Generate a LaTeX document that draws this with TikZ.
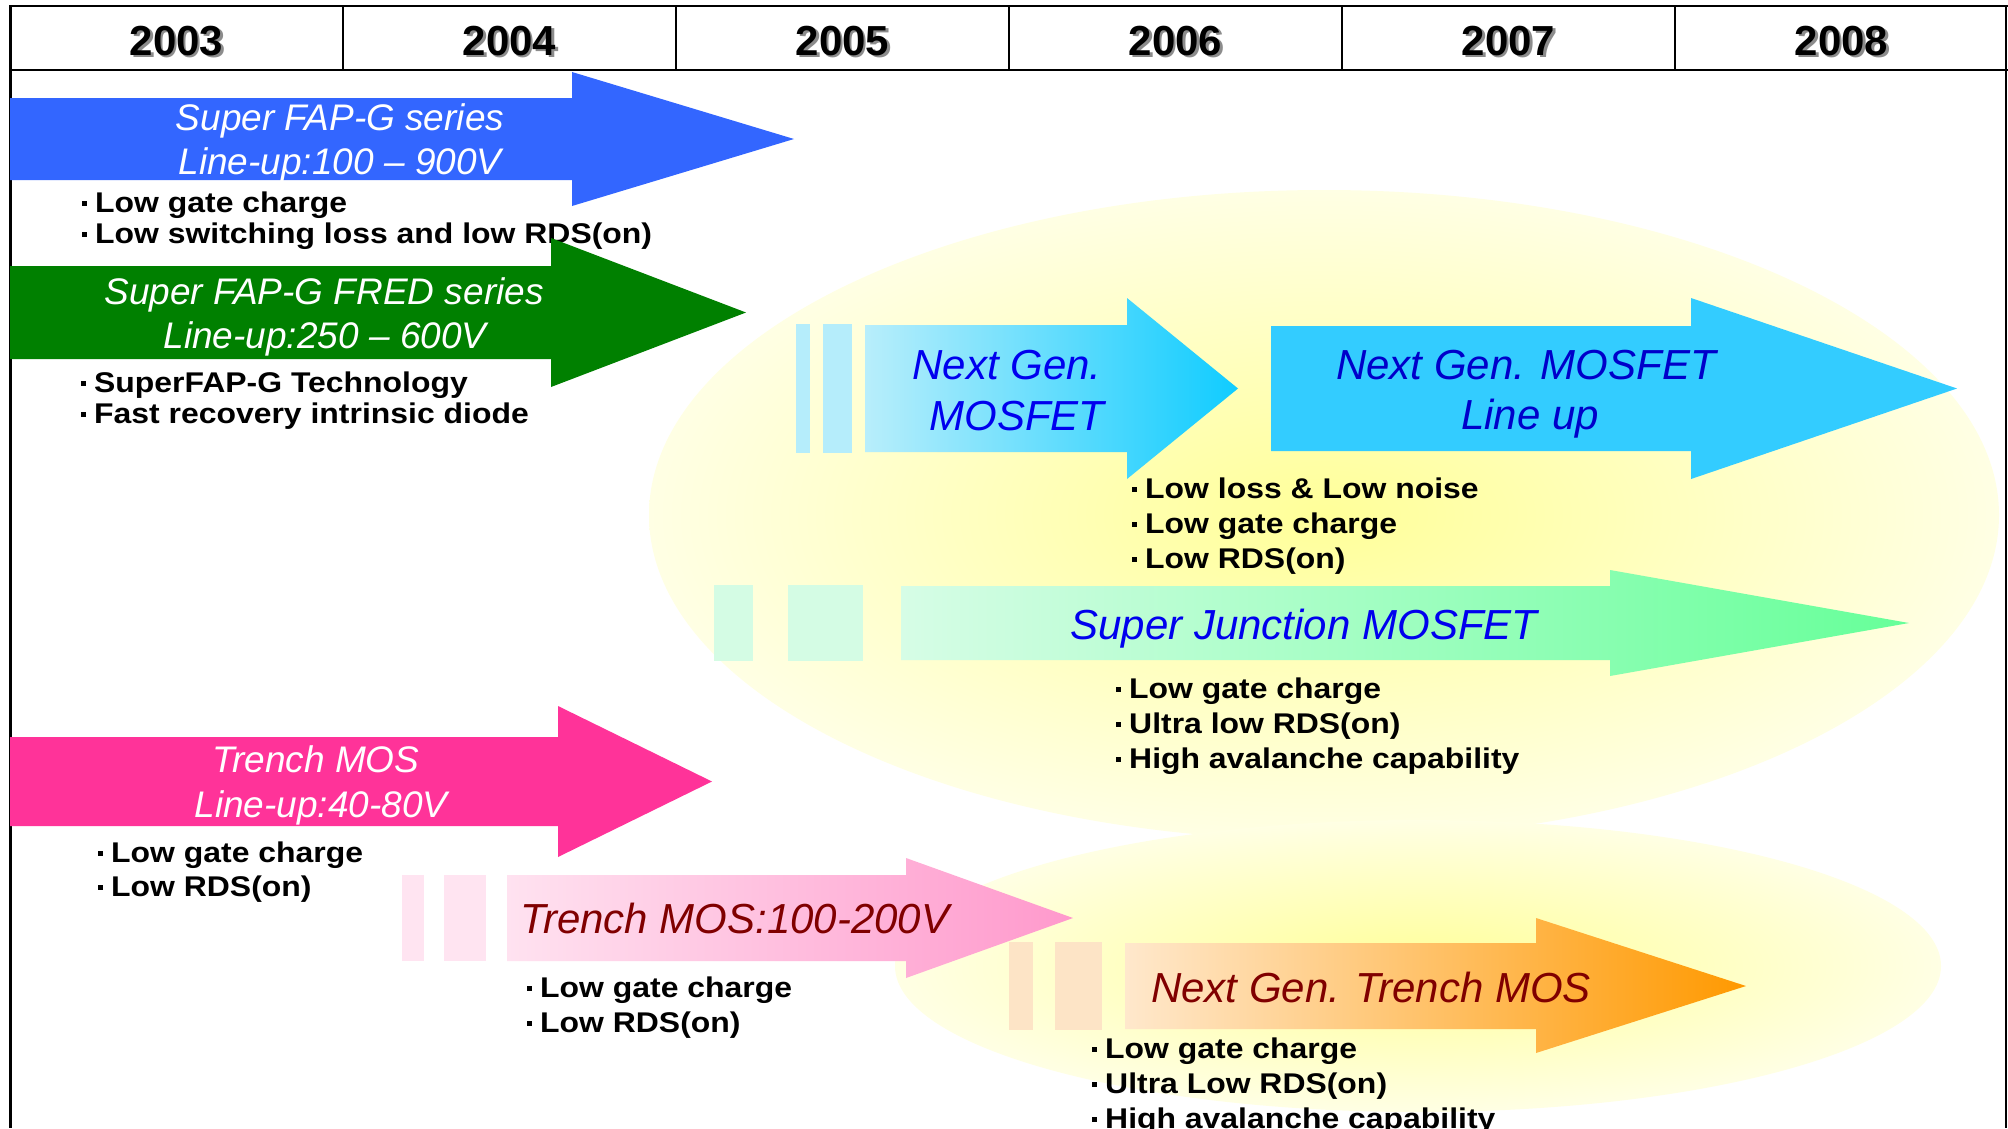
\documentclass[tikz,border=0pt]{standalone}
\usepackage{fontspec}
\setmainfont{Liberation Sans}
\usepackage{graphicx}
\definecolor{fapblue}{HTML}{3366FF}
\definecolor{fapgreen}{HTML}{008000}
\definecolor{trpink}{HTML}{FF3399}
\definecolor{ngcyan}{HTML}{33CCFF}
\definecolor{ngbar}{HTML}{B5EDFB}
\definecolor{ngL}{HTML}{B8EEFB}
\definecolor{ngR}{HTML}{10CCFF}
\definecolor{sjbar}{HTML}{D4FCE4}
\definecolor{sjL}{HTML}{D6FDE6}
\definecolor{sjR}{HTML}{66FF99}
\definecolor{tpbar}{HTML}{FFE4F1}
\definecolor{tpL}{HTML}{FFE2F0}
\definecolor{tpR}{HTML}{FF99CC}
\definecolor{ntbar}{HTML}{FDE4C6}
\definecolor{ntL}{HTML}{FFE8CC}
\definecolor{ntR}{HTML}{FF9900}
\definecolor{ylwin}{HTML}{FFFF99}
\definecolor{ylwout}{HTML}{FFFFE4}
\definecolor{txtblue}{HTML}{0000EE}
\definecolor{txtred}{HTML}{800000}
\newcommand{\bultxt}[1]{\rule[6.5pt]{5pt}{5pt}\kern8pt\scalebox{1.12}[1]{#1}}
\begin{document}
\begin{tikzpicture}[x=1pt,y=-1pt,
  yr/.style={inner sep=0pt, font=\fontsize{42}{48}\selectfont\bfseries},
  wtxt/.style={anchor=base, inner sep=0pt, text=white, font=\fontsize{37}{44}\selectfont\itshape},
  ctxt/.style={anchor=base, inner sep=0pt, font=\fontsize{42}{51}\selectfont\itshape},
  bul/.style={anchor=base west, inner sep=0pt, font=\fontsize{28.5}{35}\selectfont\bfseries},
  grid/.style={line width=2.5pt, black}]
\useasboundingbox (0,0) rectangle (2008,1128);
\clip (0,0) rectangle (2008,1128);
\fill[white] (0,0) rectangle (2008,1128);

% yellow ellipses
\shade[inner color=ylwin, outer color=ylwout] (1324,515) ellipse [x radius=675pt, y radius=325pt];
\shade[inner color=ylwin, outer color=ylwout] (1418,966) ellipse [x radius=523pt, y radius=146pt];

% header grid
\draw[grid] (10,6) -- (2008,6);
\draw[grid] (10,70) -- (2008,70);
\foreach \xx in {343,676,1009,1342,1675} \draw[grid] (\xx,6) -- (\xx,70);
\draw[line width=3pt] (10,5) -- (10,1128);
\draw[line width=1.5pt] (2006,6) -- (2006,1128);

% years with shadow
\foreach \yy/\xx in {2003/176.5,2004/509.5,2005/842.5,2006/1175.5,2007/1508.5,2008/1841.5}{
  \node[yr, text=black!45] (ys\yy) at (\xx+2.5,43.5) {\yy};
  \node[yr] (y\yy) at (\xx,41) {\yy};
}

% Super FAP-G series (blue)
\fill[fapblue] (10,98) -- (572,98) -- (572,72) -- (794,139) -- (572,206) -- (572,180) -- (10,180) -- cycle;
\node[wtxt] (fap1) at (340,130) {Super FAP-G series};
\node[wtxt] (fap2) at (340,174) {Line-up:100 – 900V};
\node[bul] (fapb1) at (82,212) {\bultxt{Low gate charge}};
\node[bul] (fapb2) at (82,243) {\bultxt{Low switching loss and low RDS(on)}};

% Super FAP-G FRED series (green)
\fill[fapgreen] (10,266) -- (551,266) -- (551,238) -- (746,312.5) -- (551,387) -- (551,359) -- (10,359) -- cycle;
\node[wtxt] (fred1) at (324,304) {Super FAP-G FRED series};
\node[wtxt] (fred2) at (325,348) {Line-up:250 – 600V};
\node[bul] (fredb1) at (81,392) {\bultxt{SuperFAP-G Technology}};
\node[bul] (fredb2) at (81,423) {\bultxt{Fast recovery intrinsic diode}};

% Trench MOS (pink)
\fill[trpink] (10,737) -- (558,737) -- (558,706) -- (712,781.5) -- (558,857) -- (558,826) -- (10,826) -- cycle;
\node[wtxt] (tr1) at (316,772) {Trench MOS};
\node[wtxt] (tr2) at (321,817) {Line-up:40-80V};
\node[bul] (trb1) at (98,862) {\bultxt{Low gate charge}};
\node[bul] (trb2) at (98,896) {\bultxt{Low RDS(on)}};

% Next Gen. MOSFET (gradient cyan)
\fill[ngbar] (796,324) rectangle (810,453);
\fill[ngbar] (823,324) rectangle (852,453);
\shade[left color=ngL, right color=ngR] (865,325) -- (1127,325) -- (1127,298) -- (1238,388.5) -- (1127,479) -- (1127,452) -- (865,452) -- cycle;
\node[ctxt, text=txtblue] (ng1) at (1007,379) {Next Gen.};
\node[ctxt, text=txtblue] (ng2) at (1017,430) {MOSFET};
\node[bul] (ngb1) at (1132,498) {\bultxt{Low loss \& Low noise}};
\node[bul] (ngb2) at (1132,533) {\bultxt{Low gate charge}};
\node[bul] (ngb3) at (1132,568) {\bultxt{Low RDS(on)}};

% Next Gen. MOSFET Line up (solid cyan)
\fill[ngcyan] (1271,326) -- (1691,326) -- (1691,298) -- (1957,388.5) -- (1691,479) -- (1691,451) -- (1271,451) -- cycle;
\node[ctxt, text=txtblue!85!black] (nl1) at (1526,379) {Next Gen. MOSFET};
\node[ctxt, text=txtblue!85!black] (nl2) at (1530,429) {Line up};

% Super Junction MOSFET (gradient green)
\fill[sjbar] (714,585) rectangle (753,661);
\fill[sjbar] (788,585) rectangle (863,661);
\shade[left color=sjL, right color=sjR] (901,586) -- (1610,586) -- (1610,570) -- (1909,623) -- (1610,676) -- (1610,660) -- (901,660) -- cycle;
\node[ctxt, text=txtblue] (sj) at (1304,639) {Super Junction MOSFET};
\node[bul] (sjb1) at (1116,698) {\bultxt{Low gate charge}};
\node[bul] (sjb2) at (1116,733) {\bultxt{Ultra low RDS(on)}};
\node[bul] (sjb3) at (1116,768) {\bultxt{High avalanche capability}};

% Trench MOS:100-200V (gradient pink)
\fill[tpbar] (402,875) rectangle (424,961);
\fill[tpbar] (444,875) rectangle (486,961);
\shade[left color=tpL, right color=tpR] (507,875) -- (906,875) -- (906,858) -- (1073,918) -- (906,978) -- (906,961) -- (507,961) -- cycle;
\node[ctxt, text=txtred] (t2) at (735,933) {Trench MOS:100-200V};
\node[bul] (t2b1) at (527,997) {\bultxt{Low gate charge}};
\node[bul] (t2b2) at (527,1032) {\bultxt{Low RDS(on)}};

% Next Gen. Trench MOS (gradient orange)
\fill[ntbar] (1009,942) rectangle (1033,1030);
\fill[ntbar] (1055,942) rectangle (1102,1030);
\shade[left color=ntL, right color=ntR] (1125,943) -- (1536,943) -- (1536,918) -- (1746,986) -- (1536,1053) -- (1536,1029) -- (1125,1029) -- cycle;
\node[ctxt, text=txtred] (nt) at (1371,1002) {Next Gen. Trench MOS};
\node[bul] (ntb1) at (1092,1058) {\bultxt{Low gate charge}};
\node[bul] (ntb2) at (1092,1093) {\bultxt{Ultra Low RDS(on)}};
\node[bul] (ntb3) at (1092,1128) {\bultxt{High avalanche capability}};
\end{tikzpicture}
\end{document}
